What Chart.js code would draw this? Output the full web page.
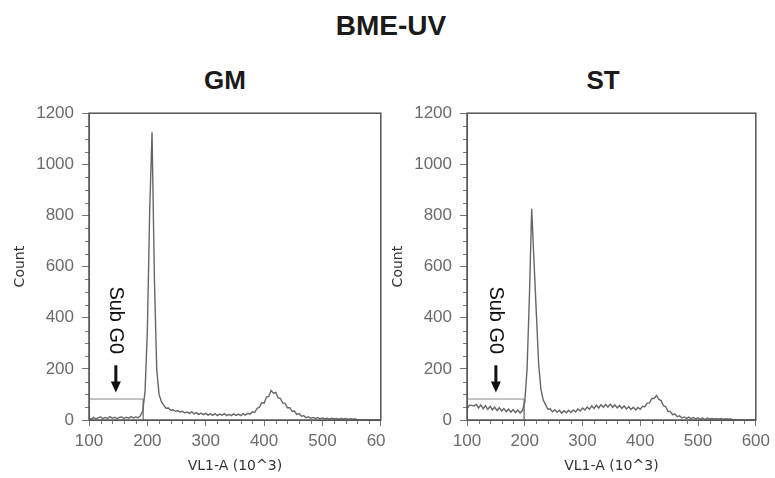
<!DOCTYPE html>
<html>
<head>
<meta charset="utf-8">
<script src="https://cdn.jsdelivr.net/npm/chart.js@4.4.1/dist/chart.umd.min.js"></script>
<style>
  body { margin: 0; background: #fff; width: 775px; height: 478px; position: relative; overflow: hidden; font-family: "Liberation Sans", Arial, sans-serif; }
  .ttl { position: absolute; font-weight: bold; color: #1a1a1a; transform: translate(-50%, -50%); white-space: nowrap; }
  .box { position: absolute; top: 95px; height: 383px; background: #fff; }
</style>
</head>
<body>
<div class="ttl" style="left:391px;top:26px;font-size:28px">BME-UV</div>
<div class="ttl" style="left:225px;top:80px;font-size:26px">GM</div>
<div class="ttl" style="left:603px;top:80px;font-size:26px">ST</div>
<div class="box" style="left:0;width:400px"><canvas id="gm"></canvas></div>
<div class="box" style="left:386px;width:389px"><canvas id="st"></canvas></div>
<script>
// histogram bins: 100, 104, ... 600 (VL1-A, x10^3)
const binStart = 100;
const binStep = 4;

const gmCounts = [
  6, 3, 10, 4, 9, 12, 5, 10, 6, 13,
  7, 11, 5, 10, 12, 6, 11, 7, 13, 8,
  12, 9, 16, 35, 110, 350, 820, 1125, 560, 200,
  100, 72, 58, 46, 47, 38, 40, 34, 37, 31,
  34, 28, 31, 26, 32, 24, 29, 22, 27, 21,
  26, 19, 24, 18, 25, 17, 23, 19, 25, 17,
  22, 17, 24, 18, 23, 17, 25, 19, 26, 23,
  32, 30, 45, 50, 68, 66, 90, 92, 115, 105,
  108, 86, 84, 66, 66, 48, 48, 34, 35, 22,
  25, 15, 17, 9, 13, 7, 10, 6, 9, 5,
  8, 4, 7, 3, 7, 4, 6, 2, 7, 3,
  6, 2, 5, 3, 4, 1, 0, 0, 0, 0,
  0, 0, 0, 0, 0, 0
];

const stCounts = [
  42, 58, 57, 55, 61, 47, 59, 44, 56, 42,
  53, 40, 50, 37, 48, 35, 45, 33, 43, 31,
  41, 29, 39, 28, 37, 70, 200, 480, 826, 620,
  420, 220, 120, 78, 60, 42, 44, 32, 40, 30,
  38, 27, 36, 28, 38, 29, 39, 31, 43, 35,
  47, 39, 51, 42, 55, 45, 58, 47, 60, 49,
  61, 50, 62, 49, 59, 47, 57, 45, 55, 43,
  52, 41, 50, 39, 49, 42, 54, 52, 66, 67,
  84, 84, 96, 81, 76, 56, 52, 34, 33, 21,
  23, 13, 16, 8, 12, 6, 11, 5, 10, 4,
  9, 3, 8, 2, 8, 3, 6, 4, 5, 3,
  6, 2, 5, 3, 4, 1, 0, 0, 0, 0,
  0, 0, 0, 0, 0, 0
];

// Sub G0 gate outlines
const gmGateX = [100, 193, 193];
const gmGateY = [82, 82, 0];
const stGateX = [100, 199, 199];
const stGateY = [82, 82, 0];

// "Sub G0" label + arrow (data units)
const labelY = 390;
const arrowTop = 214;
const arrowTip = 108;

Chart.defaults.font.family = '"Liberation Sans", Arial, sans-serif';

const toPoints = (counts) => counts.map((c, i) => ({ x: binStart + i * binStep, y: c }));
const zipPoints = (xs, ys) => xs.map((x, i) => ({ x: x, y: ys[i] }));

const decor = {
  id: 'decor',
  afterDatasetsDraw(chart, args, opts) {
    const { ctx, chartArea: a, scales: { x, y } } = chart;
    ctx.save();

    // minor ticks
    ctx.strokeStyle = '#777';
    ctx.lineWidth = 1;
    ctx.beginPath();
    for (let v = 50; v < 1200; v += 50) {
      if (v % 200 === 0) continue;
      const py = Math.round(y.getPixelForValue(v)) + 0.5;
      ctx.moveTo(a.left - 4, py);
      ctx.lineTo(a.left, py);
    }
    for (let v = 120; v < 600; v += 20) {
      if (v % 100 === 0) continue;
      const px = Math.round(x.getPixelForValue(v)) + 0.5;
      ctx.moveTo(px, a.bottom);
      ctx.lineTo(px, a.bottom + 4);
    }
    ctx.stroke();

    // frame
    ctx.strokeStyle = '#555';
    ctx.lineWidth = 1.5;
    ctx.strokeRect(a.left, a.top, a.right - a.left, a.bottom - a.top);

    // Sub G0 label
    const ax = x.getPixelForValue(opts.at);
    ctx.fillStyle = '#111';
    ctx.save();
    ctx.translate(ax, y.getPixelForValue(labelY));
    ctx.rotate(Math.PI / 2);
    ctx.font = '20px "Liberation Sans", Arial, sans-serif';
    ctx.textAlign = 'center';
    ctx.textBaseline = 'middle';
    ctx.fillText('Sub G0', 0, 0);
    ctx.restore();

    // arrow
    const top = y.getPixelForValue(arrowTop);
    const tip = y.getPixelForValue(arrowTip);
    ctx.strokeStyle = '#111';
    ctx.lineWidth = 3;
    ctx.beginPath();
    ctx.moveTo(ax, top);
    ctx.lineTo(ax, tip - 8);
    ctx.stroke();
    ctx.beginPath();
    ctx.moveTo(ax - 5, tip - 11);
    ctx.lineTo(ax + 5, tip - 11);
    ctx.lineTo(ax, tip);
    ctx.closePath();
    ctx.fill();

    ctx.restore();
  }
};

function makeChart(id, counts, gate, o) {
  return new Chart(document.getElementById(id), {
    type: 'line',
    data: {
      datasets: [
        { data: toPoints(counts), borderColor: '#666', borderWidth: 1.4, pointRadius: 0, tension: 0 },
        { data: gate, borderColor: '#8a8a8a', borderWidth: 1, pointRadius: 0, tension: 0 }
      ]
    },
    options: {
      responsive: true,
      maintainAspectRatio: false,
      animation: false,
      layout: { padding: { top: 17, right: o.padRight, left: 0, bottom: 0 } },
      plugins: {
        legend: { display: false },
        tooltip: { enabled: false },
        decor: { at: o.labelAt }
      },
      scales: {
        x: {
          type: 'linear',
          min: 100,
          max: 600,
          ticks: { stepSize: 100, padding: 5, color: '#6b6b6b', font: { size: 17 }, callback: (v) => String(v) },
          grid: { drawOnChartArea: false, tickLength: 6, color: '#777' },
          border: { color: '#555' },
          title: { display: true, text: 'VL1-A (10^3)', color: '#333', font: { family: '"DejaVu Sans"', size: 14 }, padding: { top: 0, bottom: 3 } },
          afterFit: (s) => { s.height = 58; }
        },
        y: {
          min: 0,
          max: 1200,
          ticks: { stepSize: 200, padding: 8, color: '#6b6b6b', font: { size: 17 }, callback: (v) => String(v) },
          grid: { drawOnChartArea: false, tickLength: 7, color: '#777' },
          border: { color: '#555' },
          title: { display: true, text: 'Count', color: '#333', font: { family: '"DejaVu Sans"', size: 14 }, padding: { top: o.titlePad, bottom: 0 } },
          afterFit: (s) => { s.width = o.axisWidth; }
        }
      }
    },
    plugins: [decor]
  });
}

makeChart('gm', gmCounts, zipPoints(gmGateX, gmGateY), { padRight: 17, axisWidth: 89, titlePad: 12, labelAt: 146 });
makeChart('st', stCounts, zipPoints(stGateX, stGateY), { padRight: 15, axisWidth: 81, titlePad: 4, labelAt: 150 });
</script>
</body>
</html>
